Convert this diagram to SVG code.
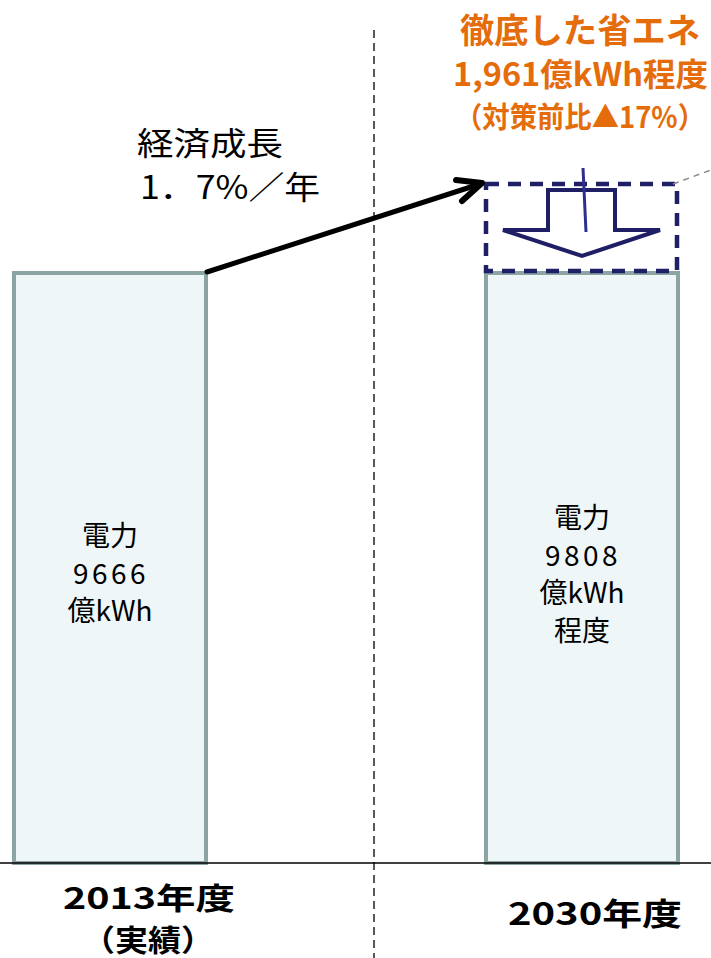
<svg xmlns="http://www.w3.org/2000/svg" width="711" height="958" viewBox="0 0 711 958">
<style>
.bar{fill:#EEF6F8;stroke:#8BA5A5;stroke-width:4}
.t{font-family:"Noto Sans CJK JP","Noto Sans",sans-serif;fill:#000}
.o{font-family:"Noto Sans CJK JP","Noto Sans",sans-serif;fill:#E46C0A;font-weight:bold}
.lbl{font-family:"Noto Sans CJK JP","Noto Sans",sans-serif;fill:#000;font-size:28px;text-anchor:middle}
.navy{fill:none;stroke:#1F1F66;stroke-width:4}
</style>
<rect width="711" height="958" fill="#fff"/>
<g id="axis">
<line x1="374" y1="30" x2="374" y2="958" stroke="#222" stroke-width="1.5" stroke-dasharray="8,5"/>
</g>
<g id="bar2013">
<rect class="bar" x="14" y="273" width="192" height="590"/>
<text class="lbl" x="110" y="546">電力</text>
<text class="lbl" x="111" y="584" letter-spacing="3.5">9666</text>
<text class="lbl" x="110" y="621">億kWh</text>
</g>
<g id="bar2030">
<rect class="bar" x="486" y="273" width="192" height="590"/>
<text class="lbl" x="582" y="528">電力</text>
<text class="lbl" x="583" y="566" letter-spacing="3.5">9808</text>
<text class="lbl" x="582" y="603">億kWh</text>
<text class="lbl" x="582" y="641">程度</text>
</g>
<line x1="0" y1="863" x2="711" y2="863" stroke="#000" stroke-width="1.5"/>
<g id="saving">
<rect x="486" y="184" width="191" height="87" fill="none" stroke="#1F1F66" stroke-width="4.5" stroke-dasharray="13,9"/>
<path class="navy" d="M548,190 L615,190 L615,230 L660,230 L582,256 L503,230 L548,230 Z" stroke-linejoin="miter"/>
<line x1="583" y1="168" x2="586" y2="232" stroke="#2E2E8C" stroke-width="3"/>
<line x1="673" y1="184" x2="711" y2="170" stroke="#888" stroke-width="1.5" stroke-dasharray="6,5"/>
</g>
<g id="connectors">
<line x1="207" y1="272" x2="480" y2="184" stroke="#000" stroke-width="5" stroke-linecap="round"/>
<path d="M456,180 L482,183 L462,201" fill="none" stroke="#000" stroke-width="6" stroke-linecap="round" stroke-linejoin="round"/>
</g>
<g id="growth">
<text class="t" x="137" y="155" font-size="32" textLength="146" lengthAdjust="spacingAndGlyphs">経済成長</text>
<text class="t" x="140" y="199" font-size="32" textLength="180" lengthAdjust="spacingAndGlyphs">1．7%／年</text>
</g>
<g id="title">
<text class="o" x="460" y="43" font-size="34" textLength="240" lengthAdjust="spacingAndGlyphs">徹底した省エネ</text>
<text class="o" x="453" y="86" font-size="32" textLength="255" lengthAdjust="spacingAndGlyphs">1,961億kWh程度</text>
<text class="o" x="455" y="128" font-size="29" textLength="250" lengthAdjust="spacingAndGlyphs">（対策前比▲17%）</text>
</g>
<g id="years">
<text class="t" x="63" y="909" font-size="30" font-weight="bold" textLength="172" lengthAdjust="spacingAndGlyphs">2013年度</text>
<text class="t" x="82" y="951" font-size="30" font-weight="bold" textLength="132" lengthAdjust="spacingAndGlyphs">（実績）</text>
<text class="t" x="508" y="925" font-size="31" font-weight="bold" textLength="174" lengthAdjust="spacingAndGlyphs">2030年度</text>
</g>
</svg>
